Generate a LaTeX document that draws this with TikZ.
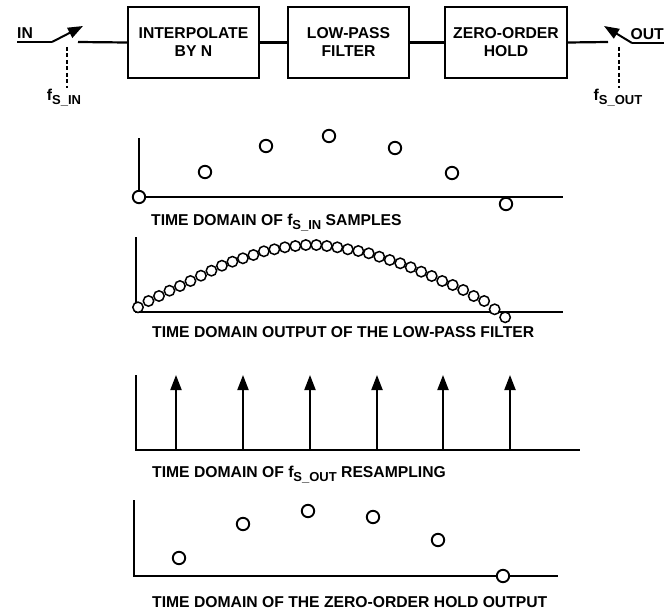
\documentclass[tikz,border=0pt]{standalone}
\usepackage{fontspec}
\setmainfont{Liberation Sans}
\usepackage{tikz}
\usetikzlibrary{arrows.meta,positioning,calc}
\newcommand{\subs}[1]{\raisebox{-4pt}{\fontsize{13}{13}\selectfont #1}}

\begin{document}
\begin{tikzpicture}[x=1pt,y=-1pt,
  font=\fontsize{15.7}{18}\selectfont\bfseries,
  blk/.style={draw,line width=2pt,minimum height=71pt,align=center,inner sep=0pt},
  wire/.style={line width=2.2pt},
  sw/.style={line width=2pt,-{Triangle[length=15pt,width=11pt]}},
  ctrl/.style={line width=1.2pt,dash pattern=on 4pt off 2.5pt},
  axis/.style={line width=2pt},
  smp/.style={line width=1.9pt,fill=white},
  dot/.style={line width=1.5pt,fill=white},
  imp/.style={line width=2pt,-{Triangle[length=15pt,width=11pt]}},
  plotlbl/.style={anchor=base west,inner sep=0pt}
  ]
\useasboundingbox (0,0) rectangle (672,610);

% Signal chain
\node[blk,minimum width=131pt] (interp) at (193.5,42.5) {INTERPOLATE\\BY N};
\node[blk,minimum width=121pt] (lpf)    at (348.5,42.5) {LOW-PASS\\FILTER};
\node[blk,minimum width=122pt] (zoh)    at (506,42.5)   {ZERO-ORDER\\HOLD};

% Input switch
\coordinate (inend) at (17,42);
\coordinate (inpiv) at (52,42);
\coordinate (intip) at (83,26);
\coordinate (swin)  at (78,42);
\node[anchor=base west,inner sep=0pt] (inlbl) at (17,38.5) {IN};
\draw[wire] (inend) -- (inpiv);
\draw[sw] (inpiv) -- (intip);
\draw[wire] (swin) -- (interp.west);
\draw[wire] (interp.east) -- (lpf.west);
\draw[wire] (lpf.east) -- (zoh.west);

% Output switch
\coordinate (swout)  at (608,42);
\coordinate (outpiv) at (632,43);
\coordinate (outtip) at (604,26);
\coordinate (outend) at (664,43);
\node[anchor=base east,inner sep=0pt] (outlbl) at (664,39.5) {OUT};
\draw[wire] (zoh.east) -- (swout);
\draw[sw] (outpiv) -- (outtip);
\draw[wire] (outpiv) -- (outend);

% Sampling clocks
\node[inner sep=1pt] (fsin)  at (64,98)  {f\subs{S\_IN}};
\node[inner sep=1pt] (fsout) at (618,98) {f\subs{S\_OUT}};
\coordinate (ctlin)  at (67,47);
\coordinate (ctlout) at (619,47);
\draw[ctrl] (ctlin) -- (ctlin |- fsin.north);
\draw[ctrl] (ctlout) -- (ctlout |- fsout.north);

% Input samples
\draw[axis] (139,138) -- (139,197) -- (563,197);
\foreach \x/\y in {139/197,205/172,266/146,329/136,395/148,452/173,506/204}
  \draw[smp] (\x,\y) circle (6.2pt);
\node[plotlbl] (lbl1) at (151,225) {TIME DOMAIN OF f\subs{S\_IN} SAMPLES};

% Low-pass filter output
\draw[axis] (136,237) -- (136,312) -- (563,312);
\foreach \y [count=\i from 0] in {307.3,301,296,290.7,286,281,275.7,270.7,265.7,261.7,
    258.3,255,251.3,249.3,247.3,246,245,245,246,247.3,249.3,251,253.3,256.7,
    260,263.3,267.3,271.7,276,281,285,290,296,301,309.3,317.3}
  \draw[dot] ({138+10.49*\i},\y) circle (5.2pt);
\node[plotlbl] (lbl2) at (152,337) {TIME DOMAIN OUTPUT OF THE LOW-PASS FILTER};

% Output resampling
\draw[axis] (136,375) -- (136,450) -- (580,450);
\foreach \x in {176,243,310,377,443,510}
  \draw[imp] (\x,450) -- (\x,375);
\node[plotlbl] (lbl3) at (152,477) {TIME DOMAIN OF f\subs{S\_OUT} RESAMPLING};

% Zero-order hold output
\draw[axis] (134,500) -- (134,576) -- (558,576);
\foreach \x/\y in {179/558,243/524,308/511,373/517,438/540,503/576}
  \draw[smp] (\x,\y) circle (6.2pt);
\node[plotlbl] (lbl4) at (152,607) {TIME DOMAIN OF THE ZERO-ORDER HOLD OUTPUT};

\end{tikzpicture}
\end{document}
